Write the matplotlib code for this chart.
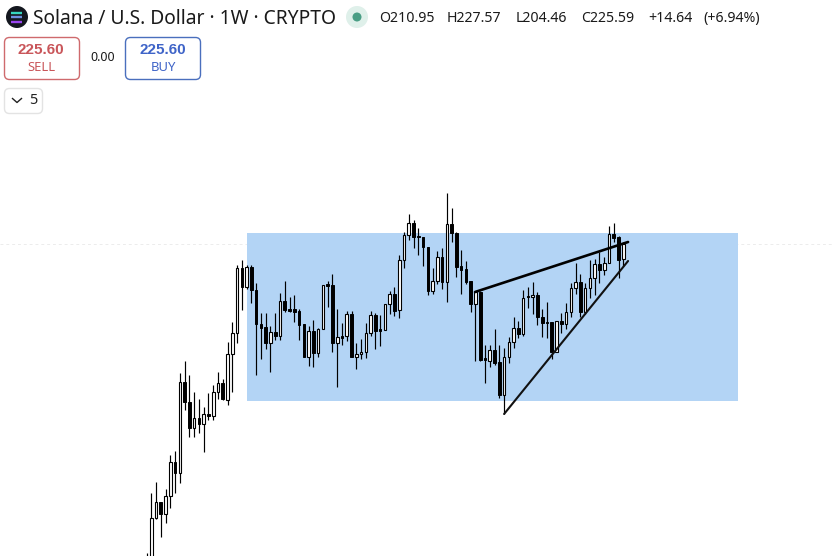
import matplotlib
matplotlib.use("Agg")
import matplotlib.pyplot as plt
from matplotlib.patches import Circle, FancyBboxPatch, Rectangle
import numpy as np

title = "Solana / U.S. Dollar · 1W · CRYPTO"
ohlc_labels = ["O210.95", "H227.57", "L204.46", "C225.59", "+14.64", "(+6.94%)"]
sell_price = "225.60"
buy_price = "225.60"
spread = "0.00"
collapse_count = "5"
last_price = 225.6

opens = [-100,-100,-48,-32,-44,-26,8,-3,88,68,42,52,46,56,54,78,87,70,116,137,202,183,203,180,146,143,127,138,134,169,161,161,159,146,113,139,117,141,186,185,127,134,134,156,113,116,118,137,155,141,140,166,176,160,210,235,247,234,233,223,179,189,213,188,246,237,204,201,189,166,178,112,109,120,108,75,113,128,142,136,174,173,175,153,148,148,118,149,146,158,182,188,158,182,192,206,200,207,236,233,210.95]
highs = [-83,-23,-12,-32,-19,15,19,97,109,95,78,71,63,77,85,98,91,128,148,205,210,205,205,187,157,157,144,157,177,189,173,175,161,146,144,150,142,185,189,196,161,147,159,159,127,131,147,159,157,155,166,179,183,215,238,256,250,242,233,223,202,219,222,277,262,238,220,209,189,179,179,125,125,141,125,122,133,153,149,180,183,188,178,161,168,148,149,157,167,187,207,196,187,210,211,218,213,244,247,234,227.57]
lows = [-105,-105,-49,-67,-53,-38,-23,-13,60,33,33,37,18,50,50,71,70,65,78,127,160,181,167,95,111,121,98,130,130,158,158,148,130,113,104,103,113,141,163,118,83,125,129,113,101,111,112,134,121,124,140,156,154,152,202,230,222,215,204,175,176,186,181,168,228,193,176,186,158,109,109,87,103,105,72,56,107,122,132,134,162,156,145,133,132,111,118,137,141,153,176,153,156,172,175,187,195,207,228,192,204.46]
closes = [-90,-48,-32,-44,-26,8,-3,88,68,42,52,46,56,54,78,87,71,116,137,202,183,203,180,146,142,127,138,134,169,160,159,158,145,113,139,117,141,185,184,127,133,132,156,113,116,118,137,155,139,139,166,176,159,210,235,247,233,233,223,179,189,213,188,246,237,203,200,188,166,178,110,110,120,107,75,113,128,142,136,172,173,175,153,147,147,118,149,146,158,182,188,158,182,192,206,200,207,236,232,210,225.59]

range_low, range_high = 69, 237
range_start, range_end = 21.08, 124.06
upper_trend_idx = [68.9, 101.0]
upper_trend_val = [178, 228]
lower_trend_idx = [75.0, 101.0]
lower_trend_val = [56, 209]

fig = plt.figure(figsize=(8.33, 5.56), dpi=100, facecolor="white")
ax = fig.add_axes([0, 0, 1, 1])
ax.set_xlim(-146.5 / 4.768, (833 - 146.5) / 4.768)
ax.set_ylim(-86, 470)
ax.axis("off")

idx = np.arange(len(opens))
o, h, l, c = map(np.array, (opens, highs, lows, closes))
ax.add_patch(Rectangle((range_start, range_low), range_end - range_start, range_high - range_low,
                       facecolor="#b3d4f5", edgecolor="none", zorder=1))
ax.axhline(last_price, color="#ececec", lw=0.7, ls=(0, (3, 3)), zorder=0.5)
ax.vlines(idx, l, h, color="black", lw=0.85, zorder=2)
up = c >= o
ax.bar(idx[up], (c - o)[up], bottom=o[up], width=0.55, facecolor="white", edgecolor="black", linewidth=0.8, zorder=3)
ax.bar(idx[~up], (o - c)[~up], bottom=c[~up], width=0.55, facecolor="black", edgecolor="black", linewidth=0.7, zorder=3)
ax.plot(upper_trend_idx, upper_trend_val, color="black", lw=1.9, zorder=4, solid_capstyle="round")
ax.plot(lower_trend_idx, lower_trend_val, color="#111111", lw=1.5, zorder=4, solid_capstyle="round")

# interface elements, laid out in screen pixels
ui = fig.add_axes([0, 0, 1, 1])
ui.set_xlim(0, 833)
ui.set_ylim(556, 0)
ui.axis("off")
ui.patch.set_alpha(0)
FONT = "Noto Sans"

ui.add_patch(Circle((17, 17), 11, facecolor="#14171f", edgecolor="none"))
for yy, col in zip((12.5, 17, 21.5), ("#36d6c0", "#6f8fe0", "#9a45f0")):
    ui.plot([11.5, 22.5], [yy, yy], color=col, lw=1.7, solid_capstyle="butt")

ui.text(33, 18.5, title, fontsize=13.85, family=FONT, color="#1a1a1a", va="center", ha="left")
ui.add_patch(Circle((357, 17), 11, facecolor="#dff0ea", edgecolor="none"))
ui.add_patch(Circle((357, 17), 4.5, facecolor="#4a9e85", edgecolor="none"))
for x, s in zip((379, 447, 516, 581, 648, 703), ohlc_labels):
    ui.text(x, 18.5, s, fontsize=10.2, family=FONT, color="#1a1a1a", va="center", ha="left")

def button(x0, x1, y0, y1, col, lw=1.0):
    ui.add_patch(FancyBboxPatch((x0 + 4, y0 + 4), x1 - x0 - 8, y1 - y0 - 8,
                                boxstyle="round,pad=4,rounding_size=5",
                                facecolor="white", edgecolor=col, lw=lw))

button(4.5, 79.5, 37.5, 79.5, "#cf6a6d")
ui.text(41, 50.5, sell_price, fontsize=11, family="Liberation Sans", weight="bold", color="#c9565a", ha="center", va="center")
ui.text(41, 67.5, "SELL", fontsize=9.4, family=FONT, color="#c9565a", ha="center", va="center")
ui.text(103, 57.5, spread, fontsize=9, family=FONT, color="#1a1a1a", ha="center", va="center")
button(125.5, 200.5, 37.5, 79.5, "#4a6fbd")
ui.text(163, 50.5, buy_price, fontsize=11, family="Liberation Sans", weight="bold", color="#3f64c8", ha="center", va="center")
ui.text(163, 67.5, "BUY", fontsize=9.4, family=FONT, color="#3f64c8", ha="center", va="center")
button(4.5, 42.5, 88.5, 113.5, "#e3e3e3")
ui.plot([12.5, 17, 21.5], [98.5, 102.5, 98.5], color="#222222", lw=1.0)
ui.text(33, 100.5, collapse_count, fontsize=10.5, family=FONT, color="#222222", ha="center", va="center")

fig.savefig("out.png", dpi=100)
